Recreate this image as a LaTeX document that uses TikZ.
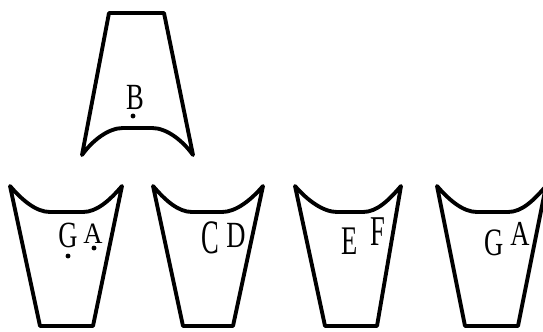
\documentclass[tikz,border=0pt]{standalone}
\usepackage{fontspec}
\setmainfont{Liberation Serif}
\begin{document}
\begin{tikzpicture}[x=0.02cm,y=-0.02cm,line width=2.2pt,line join=round,
  letter/.style={font=\fontsize{21}{21}\selectfont,inner sep=0pt,xscale=0.72},
  spot/.style={circle,fill=black,inner sep=0pt,minimum size=2.8pt}]
  \useasboundingbox (0,0) rectangle (543,331);
  \clip (0,0) rectangle (543,331);
  % upper piece
  \draw (109,13) -- (164,13) -- (193,155) .. controls (183,141) and (167,128) .. (152,128)
    -- (123,128) .. controls (108,128) and (92,141) .. (82,155) -- cycle;
  % lower pieces: top corners, flat part, bottom corners
  \foreach \a/\b/\c/\d/\e/\f in {10/122/50/83/40/93, 153/263/192/222/183/233,
      295/401/337/363/325/377, 437/546/477/508/465/518} {
    \draw (\a,186) .. controls (\a+12,200) and (\c-14,212) .. (\c,212) -- (\d,212)
      .. controls (\d+14,212) and (\b-12,200) .. (\b,186) -- (\f,326) -- (\e,326) -- cycle;
  }
  % letters
  \node[letter] (B) at (135,97) {B};
  \node[spot] (b) at (133,116) {};
  \node[letter] (G1) at (68,235) {G};
  \node[spot] (g1) at (68,256) {};
  \node[letter,yscale=0.8] (A1) at (93,234) {A};
  \node[spot] (a1) at (94,248) {};
  \node[letter,yscale=1.3] (C) at (210,238) {C};
  \node[letter] (D) at (236,235) {D};
  \node[letter,yscale=1.1] (E) at (350,241) {E};
  \node[letter,yscale=1.15] (F) at (378,232) {F};
  \node[letter,yscale=1.05] (G2) at (494,243) {G};
  \node[letter,yscale=0.95] (A2) at (520,234) {A};
\end{tikzpicture}
\end{document}
